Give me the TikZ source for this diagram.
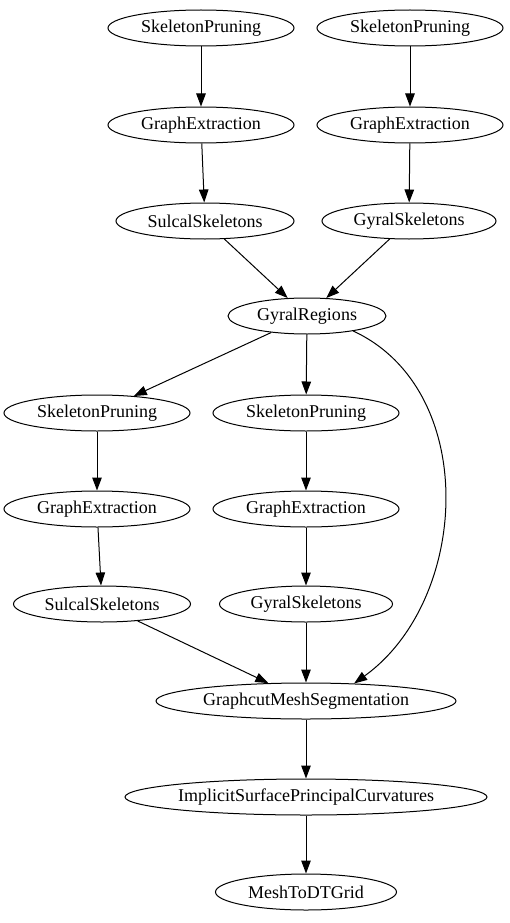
\documentclass[tikz,border=0pt]{standalone}
\usepackage{fontspec}
\setmainfont{Liberation Serif}
\usetikzlibrary{arrows.meta,shapes.geometric}

\begin{document}
\begin{tikzpicture}[x=1pt,y=-1pt,
    every node/.style={font=\fontsize{18}{21}\selectfont},
    stage/.style={draw,ellipse,line width=1pt,inner sep=0pt,minimum height=36pt},
    edge/.style={-{Triangle[length=13pt,width=9.5pt]},line width=1pt}]
    \useasboundingbox (0,0) rectangle (509,923);
    % two input branches
    \node[stage,minimum width=186pt] (spa) at (201,28) {SkeletonPruning};
    \node[stage,minimum width=186pt] (spb) at (410,28) {SkeletonPruning};
    \node[stage,minimum width=186pt] (gea) at (201,125) {GraphExtraction};
    \node[stage,minimum width=186pt] (geb) at (410,125) {GraphExtraction};
    \node[stage,minimum width=178pt] (ssa) at (205,221) {SulcalSkeletons};
    \node[stage,minimum width=174pt] (gsa) at (409,221) {GyralSkeletons};
    \node[stage,minimum width=158pt] (gr) at (307,316) {GyralRegions};
    % second pass
    \node[stage,minimum width=186pt] (spc) at (97,413) {SkeletonPruning};
    \node[stage,minimum width=186pt] (spd) at (306,413) {SkeletonPruning};
    \node[stage,minimum width=186pt] (gec) at (97,509) {GraphExtraction};
    \node[stage,minimum width=186pt] (ged) at (306,509) {GraphExtraction};
    \node[stage,minimum width=177pt] (ssb) at (102,604) {SulcalSkeletons};
    \node[stage,minimum width=173pt] (gsb) at (306,604) {GyralSkeletons};
    \node[stage,minimum width=300pt] (gc) at (306,701) {GraphcutMeshSegmentation};
    \node[stage,minimum width=361pt] (ispc) at (306,797) {ImplicitSurfacePrincipalCurvatures};
    \node[stage,minimum width=181pt] (dt) at (306,892) {MeshToDTGrid};

    \draw[edge] (spa)--(gea);
    \draw[edge] (spb)--(geb);
    \draw[edge] (gea)--(ssa);
    \draw[edge] (geb)--(gsa);
    \draw[edge] (ssa)--(gr);
    \draw[edge] (gsa)--(gr);
    \draw[edge] (gr)--(spc);
    \draw[edge] (gr)--(spd);
    \draw[edge] (spc)--(gec);
    \draw[edge] (spd)--(ged);
    \draw[edge] (gec)--(ssb);
    \draw[edge] (ged)--(gsb);
    \draw[edge] (ssb)--(gc);
    \draw[edge] (gsb)--(gc);
    \draw[edge] (gr.-18) .. controls (480,390) and (470,600) .. (gc.20);
    \draw[edge] (gc)--(ispc);
    \draw[edge] (ispc)--(dt);
\end{tikzpicture}
\end{document}
